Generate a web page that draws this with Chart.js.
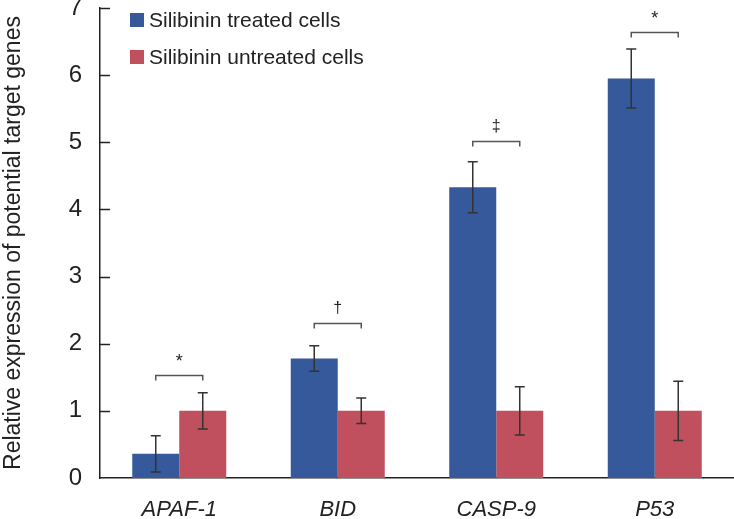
<!DOCTYPE html>
<html>
<head>
<meta charset="utf-8">
<script src="https://cdn.jsdelivr.net/npm/chart.js@4.4.1/dist/chart.umd.min.js"></script>
<style>
  html, body { margin: 0; padding: 0; background: #fff; }
  #wrap { width: 734px; height: 519px; }
</style>
</head>
<body>
<div id="wrap"><canvas id="geneChart" width="734" height="519"></canvas></div>
<script>
// gene expression data
const genes = ["APAF-1", "BID", "CASP-9", "P53"];
const seriesNames = ["Silibinin treated cells", "Silibinin untreated cells"];
const treated = [0.36, 1.78, 4.33, 5.95];
const treatedErr = [0.27, 0.19, 0.38, 0.44];
const untreated = [1.0, 1.0, 1.0, 1.0];
const untreatedErr = [0.27, 0.19, 0.36, 0.44];
const bracketLevels = [1.54, 2.31, 5.02, 6.64];
const sigMarks = ["*", "\u2020", "\u2021", "*"];
const yTicks = [0, 1, 2, 3, 4, 5, 6, 7];

const BLUE = "#35599a";
const RED = "#c0505d";
const INK = "#222";
const FONT = "'Liberation Sans', Arial, Helvetica, sans-serif";

// error bars, significance brackets, inward tick marks and the legend
const extras = {
  id: "extras",
  afterDatasetsDraw(chart) {
    const ctx = chart.ctx;
    const y = chart.scales.y;
    const area = chart.chartArea;
    const errs = [treatedErr, untreatedErr];

    ctx.save();
    // inward ticks on the y axis
    ctx.strokeStyle = INK;
    ctx.lineWidth = 1.5;
    yTicks.forEach(v => {
      if (v === 0) return;
      const py = Math.round(y.getPixelForValue(v)) + 0.5;
      ctx.beginPath();
      ctx.moveTo(area.left, py);
      ctx.lineTo(area.left + 10, py);
      ctx.stroke();
    });

    // error bars
    ctx.strokeStyle = "#333";
    ctx.lineWidth = 1.5;
    chart.data.datasets.forEach((ds, i) => {
      const meta = chart.getDatasetMeta(i);
      meta.data.forEach((bar, j) => {
        const v = ds.data[j];
        const e = errs[i][j];
        const top = y.getPixelForValue(v + e);
        const bot = y.getPixelForValue(v - e);
        ctx.beginPath();
        ctx.moveTo(bar.x, top);
        ctx.lineTo(bar.x, bot);
        ctx.moveTo(bar.x - 5, top);
        ctx.lineTo(bar.x + 5, top);
        ctx.moveTo(bar.x - 5, bot);
        ctx.lineTo(bar.x + 5, bot);
        ctx.stroke();
      });
    });

    // significance brackets
    const m0 = chart.getDatasetMeta(0).data;
    const m1 = chart.getDatasetMeta(1).data;
    ctx.strokeStyle = "#555";
    ctx.fillStyle = INK;
    ctx.textAlign = "center";
    ctx.textBaseline = "middle";
    bracketLevels.forEach((lvl, j) => {
      const by = Math.round(y.getPixelForValue(lvl)) + 0.5;
      const x1 = m0[j].x, x2 = m1[j].x;
      ctx.beginPath();
      ctx.moveTo(x1, by + 5);
      ctx.lineTo(x1, by);
      ctx.lineTo(x2, by);
      ctx.lineTo(x2, by + 5);
      ctx.stroke();
      const star = sigMarks[j] === "*";
      ctx.font = (star ? "18px " : "16px ") + FONT;
      ctx.fillText(sigMarks[j], (x1 + x2) / 2, by - (star ? 13 : 15));
    });

    // legend inside plot
    const colors = [BLUE, RED];
    ctx.font = "21px " + FONT;
    ctx.textAlign = "left";
    seriesNames.forEach((name, i) => {
      const cy = 20 + i * 37;
      ctx.fillStyle = colors[i];
      ctx.fillRect(130, cy - 7, 14, 14);
      ctx.fillStyle = INK;
      ctx.fillText(name, 149, cy + 1);
    });
    ctx.restore();
  }
};

new Chart(document.getElementById("geneChart"), {
  type: "bar",
  data: {
    labels: genes,
    datasets: [
      { label: seriesNames[0], data: treated, backgroundColor: BLUE },
      { label: seriesNames[1], data: untreated, backgroundColor: RED }
    ]
  },
  options: {
    responsive: false,
    animation: false,
    layout: { padding: { top: 8, right: 0, left: 0, bottom: 0 } },
    plugins: {
      legend: { display: false },
      tooltip: { enabled: false }
    },
    datasets: {
      bar: { categoryPercentage: 0.593, barPercentage: 1.0 }
    },
    scales: {
      x: {
        grid: { display: false, drawTicks: false },
        border: { display: true, color: INK, width: 1.5 },
        ticks: {
          color: INK,
          padding: 19,
          font: { family: FONT, size: 22, style: "italic" }
        },
        afterFit(scale) { scale.height = 41; }
      },
      y: {
        min: 0,
        max: 7,
        grid: { display: false, drawTicks: false },
        border: { display: true, color: INK, width: 1.5 },
        ticks: {
          stepSize: 1,
          color: INK,
          padding: 18,
          font: { family: FONT, size: 24 }
        },
        title: {
          display: true,
          text: "Relative expression of potential target genes",
          color: INK,
          padding: { top: 0, bottom: 0 },
          font: { family: FONT, size: 23, lineHeight: 1.2 }
        },
        afterFit(scale) {
          scale.width = 100;
          scale.paddingTop = 0;
          scale.paddingBottom = 0;
        }
      }
    }
  },
  plugins: [extras]
});
</script>
</body>
</html>
